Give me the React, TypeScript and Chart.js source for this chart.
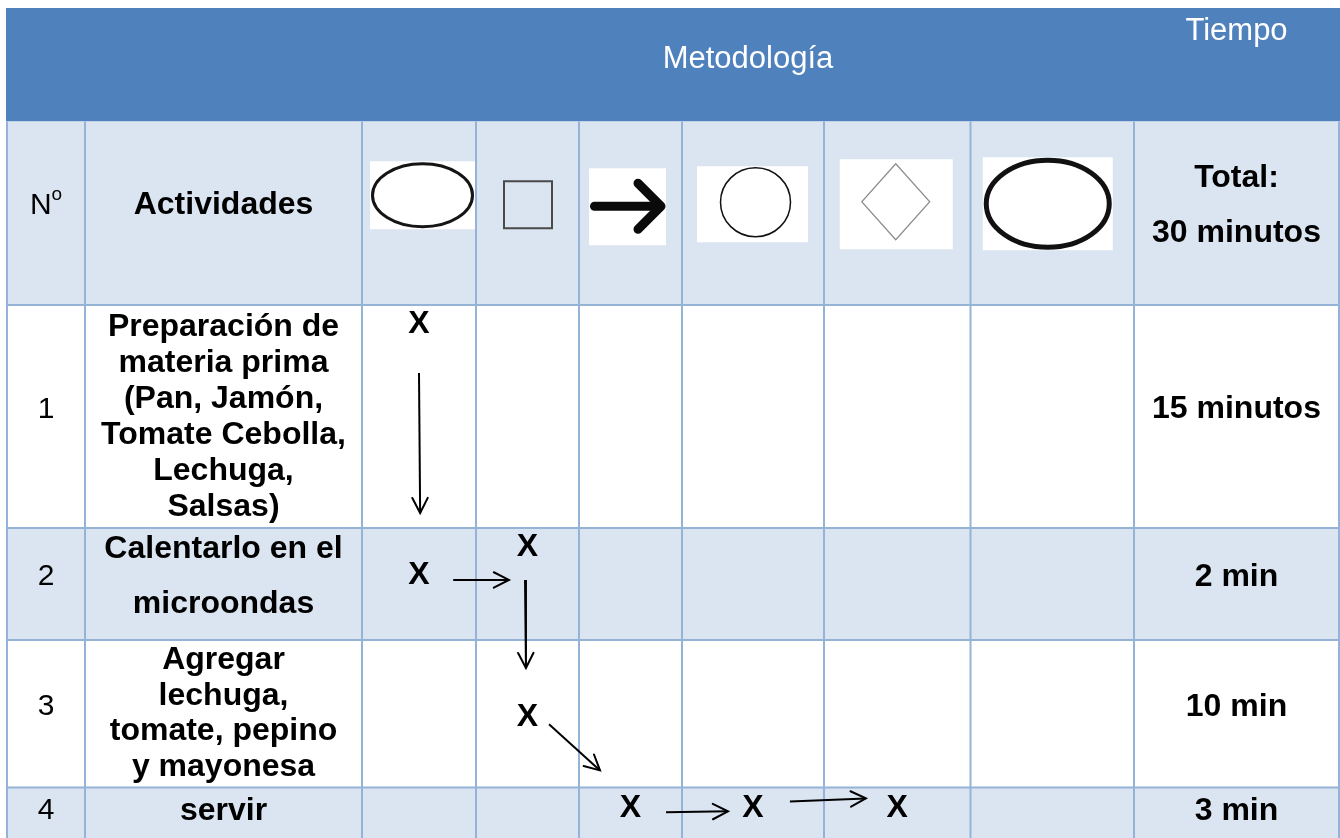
import React, { useEffect, useRef } from 'react';
import { Chart, registerables } from 'chart.js';

Chart.register(...registerables);

// ---------------- data ----------------
const headerTitle = 'Metodología';
const headerTime = 'Tiempo';
const numberHeader = 'N';
const numberHeaderSup = 'o';
const activityHeader = 'Actividades';
const symbolKinds = ['operacion', 'inspeccion', 'transporte', 'demora', 'decision', 'almacenamiento'];
const totalLines = ['Total:', '30 minutos'];

const stepNumbers = ['1', '2', '3', '4'];
const stepActivities = [
  ['Preparación de', 'materia prima', '(Pan, Jamón,', 'Tomate Cebolla,', 'Lechuga,', 'Salsas)'],
  ['Calentarlo en el', 'microondas'],
  ['Agregar', 'lechuga,', 'tomate, pepino', 'y mayonesa'],
  ['servir'],
];
const stepTimes = ['15 minutos', '2 min', '10 min', '3 min'];

// "X" marks: step (row), symbol column, vertical level inside the row (0 = top, 1 = bottom)
const markSteps = [0, 1, 1, 2, 3, 3, 3];
const markSymbols = [0, 0, 1, 1, 2, 3, 4];
const markLevels = [0.085, 0.42, 0.17, 0.52, 0.34, 0.34, 0.34];

// flow arrows: [symbol column, across-column fraction, step, down-row fraction]
const flowFrom = [
  [0, 0.5, 0, 0.305],
  [0, 0.8, 1, 0.464],
  [1, 0.476, 1, 0.464],
  [1, 0.709, 2, 0.571],
  [2, 0.845, 3, 0.41],
  [3, 0.76, 3, 0.23],
];
const flowTo = [
  [0, 0.51, 0, 0.933],
  [1, 0.32, 1, 0.464],
  [1, 0.485, 2, 0.19],
  [2, 0.204, 2, 0.884],
  [3, 0.324, 3, 0.393],
  [4, 0.286, 3, 0.18],
];

// ---------------- layout (table units) ----------------
const COL_EDGES = [1, 79, 356, 470, 573, 676, 818, 964.5, 1128, 1333];
const ROW_EDGES = [0, 113.5, 297, 520, 632, 779.5, 840];
const TABLE_W = 1334;
const TABLE_H = 830;
const LINE_PITCH = [36, 55, 35.5, 36];
const TEXT_SHIFT = -7;
const ACT_SHIFT = [8, 0, 7, 0];

const HEADER_BLUE = '#4F81BD';
const LIGHT_ROW = '#DBE5F1';
const GRID = '#95B3D7';
const FONT = '"Liberation Sans", Arial, Helvetica, sans-serif';

const symX = (s: number, f: number) => COL_EDGES[2 + s] + f * (COL_EDGES[3 + s] - COL_EDGES[2 + s]);
const stepY = (i: number, f: number) => ROW_EDGES[2 + i] + f * (ROW_EDGES[3 + i] - ROW_EDGES[2 + i]);

function ellipse(ctx: CanvasRenderingContext2D, x: number, y: number, rx: number, ry: number, lw: number, color: string) {
  ctx.beginPath();
  ctx.ellipse(x, y, rx, ry, 0, 0, Math.PI * 2);
  ctx.lineWidth = lw;
  ctx.strokeStyle = color;
  ctx.stroke();
}

function drawIcon(ctx: CanvasRenderingContext2D, kind: string, cx: number, cy: number) {
  ctx.save();
  ctx.fillStyle = '#ffffff';
  if (kind === 'operacion') {
    ctx.fillRect(cx - 49, cy - 52, 105, 68);
    ellipse(ctx, cx + 3.5, cy - 18, 50, 31.5, 3, '#151515');
  } else if (kind === 'inspeccion') {
    ctx.lineWidth = 2;
    ctx.strokeStyle = '#4a4a4a';
    ctx.strokeRect(cx - 23.5, cy - 32, 48, 47);
  } else if (kind === 'transporte') {
    ctx.fillRect(cx - 41.5, cy - 45, 77, 77);
    ctx.strokeStyle = '#0a0a0a';
    ctx.lineWidth = 9;
    ctx.lineCap = 'round';
    ctx.lineJoin = 'round';
    ctx.beginPath();
    ctx.moveTo(cx - 36, cy - 7);
    ctx.lineTo(cx + 27.5, cy - 7);
    ctx.stroke();
    ctx.beginPath();
    ctx.moveTo(cx + 7.5, cy - 30);
    ctx.lineTo(cx + 30.5, cy - 7);
    ctx.lineTo(cx + 7.5, cy + 16);
    ctx.stroke();
  } else if (kind === 'demora') {
    ctx.fillRect(cx - 56, cy - 47, 111, 76);
    ellipse(ctx, cx + 2.5, cy - 11, 35, 34.5, 1.5, '#111111');
  } else if (kind === 'decision') {
    ctx.fillRect(cx - 57.5, cy - 54, 113, 90);
    const dx = cx - 1.5;
    const dy = cy - 11.5;
    ctx.beginPath();
    ctx.moveTo(dx, dy - 38);
    ctx.lineTo(dx + 34, dy);
    ctx.lineTo(dx, dy + 38);
    ctx.lineTo(dx - 34, dy);
    ctx.closePath();
    ctx.lineWidth = 1.2;
    ctx.strokeStyle = '#8c8c8c';
    ctx.stroke();
  } else if (kind === 'almacenamiento') {
    ctx.fillRect(cx - 69.5, cy - 56, 130, 93);
    ellipse(ctx, cx - 4.5, cy - 9.5, 61.5, 43.5, 5, '#111111');
  }
  ctx.restore();
}

function drawLines(ctx: CanvasRenderingContext2D, lines: string[], cx: number, cy: number, pitch: number) {
  const n = lines.length;
  lines.forEach((l, i) => ctx.fillText(l, cx, cy + (i - (n - 1) / 2) * pitch));
}

const tablePlugin = {
  id: 'flowTable',
  beforeDatasetsDraw(chart: any) {
    const ctx: CanvasRenderingContext2D = chart.ctx;
    const xs = chart.scales.x;
    const ys = chart.scales.y;
    const X = (u: number) => xs.getPixelForValue(u);
    const Y = (u: number) => ys.getPixelForValue(u);
    const colC = (k: number) => X((COL_EDGES[k] + COL_EDGES[k + 1]) / 2);
    const rowC = (r: number) => Y((ROW_EDGES[r] + ROW_EDGES[r + 1]) / 2);
    ctx.save();

    // backgrounds
    ctx.fillStyle = '#ffffff';
    ctx.fillRect(X(0), Y(0), X(TABLE_W) - X(0), Y(ROW_EDGES[6]) - Y(0));
    ctx.fillStyle = HEADER_BLUE;
    ctx.fillRect(X(0), Y(ROW_EDGES[0]), X(TABLE_W) - X(0), Y(ROW_EDGES[1]) - Y(ROW_EDGES[0]));
    ctx.fillStyle = LIGHT_ROW;
    [1, 3, 5].forEach((r) => {
      ctx.fillRect(X(0), Y(ROW_EDGES[r]), X(TABLE_W) - X(0), Y(ROW_EDGES[r + 1]) - Y(ROW_EDGES[r]));
    });

    // grid
    ctx.strokeStyle = GRID;
    ctx.lineWidth = 2;
    ctx.beginPath();
    for (let r = 2; r <= 5; r++) {
      ctx.moveTo(X(COL_EDGES[0]), Y(ROW_EDGES[r]));
      ctx.lineTo(X(COL_EDGES[COL_EDGES.length - 1]), Y(ROW_EDGES[r]));
    }
    COL_EDGES.forEach((c) => {
      ctx.moveTo(X(c), Y(ROW_EDGES[1]));
      ctx.lineTo(X(c), Y(ROW_EDGES[6]));
    });
    ctx.stroke();

    // header texts
    ctx.textAlign = 'center';
    ctx.textBaseline = 'middle';
    ctx.fillStyle = '#ffffff';
    ctx.font = `31px ${FONT}`;
    const metX = X((COL_EDGES[2] + COL_EDGES[8]) / 2);
    ctx.fillText(headerTitle, metX, rowC(0) - 5.5);
    ctx.fillText(headerTime, colC(8), Y(ROW_EDGES[0]) + 23);

    // column header row
    ctx.fillStyle = '#000000';
    const hy = rowC(1) - 8;
    ctx.font = `30px ${FONT}`;
    const nW = ctx.measureText(numberHeader).width;
    ctx.font = `19px ${FONT}`;
    const oW = ctx.measureText(numberHeaderSup).width;
    const nx0 = colC(0) - (nW + oW) / 2;
    ctx.textAlign = 'left';
    ctx.font = `30px ${FONT}`;
    ctx.fillText(numberHeader, nx0, hy);
    ctx.font = `19px ${FONT}`;
    ctx.fillText(numberHeaderSup, nx0 + nW, hy - 10);
    ctx.textAlign = 'center';
    ctx.font = `bold 32px ${FONT}`;
    ctx.fillText(activityHeader, colC(1), hy);
    drawLines(ctx, totalLines, colC(8), hy, 55);

    symbolKinds.forEach((k, s) => drawIcon(ctx, k, colC(2 + s), rowC(1)));

    // step rows
    stepNumbers.forEach((num, i) => {
      const cy = rowC(2 + i) + TEXT_SHIFT;
      ctx.font = `30px ${FONT}`;
      ctx.fillText(num, colC(0), cy);
      ctx.font = `bold 32px ${FONT}`;
      drawLines(ctx, stepActivities[i], colC(1), cy + ACT_SHIFT[i], LINE_PITCH[i]);
      ctx.fillText(stepTimes[i], colC(8), cy);
    });
    ctx.restore();
  },
  afterDatasetsDraw(chart: any) {
    const ctx: CanvasRenderingContext2D = chart.ctx;
    ctx.save();
    // X marks
    const marks = chart.getDatasetMeta(0).data;
    ctx.fillStyle = '#000000';
    ctx.font = `bold 32px ${FONT}`;
    ctx.textAlign = 'center';
    ctx.textBaseline = 'middle';
    marks.forEach((el: any) => ctx.fillText('X', el.x, el.y));
    // arrow heads
    ctx.strokeStyle = '#000000';
    ctx.lineWidth = 2;
    ctx.lineCap = 'round';
    for (let d = 1; d < chart.data.datasets.length; d++) {
      const pts = chart.getDatasetMeta(d).data;
      const a = pts[0];
      const b = pts[pts.length - 1];
      const ang = Math.atan2(b.y - a.y, b.x - a.x);
      const len = 17;
      const spread = (27 * Math.PI) / 180;
      ctx.beginPath();
      ctx.moveTo(b.x - len * Math.cos(ang - spread), b.y - len * Math.sin(ang - spread));
      ctx.lineTo(b.x, b.y);
      ctx.lineTo(b.x - len * Math.cos(ang + spread), b.y - len * Math.sin(ang + spread));
      ctx.stroke();
    }
    ctx.restore();
  },
};

export default function App() {
  const ref = useRef<HTMLCanvasElement | null>(null);
  useEffect(() => {
    if (!ref.current) return;
    const markData = markSteps.map((st, i) => ({
      x: symX(markSymbols[i], 0.5),
      y: stepY(st, markLevels[i]),
    }));
    const arrowSets = flowFrom.map((f, i) => {
      const t = flowTo[i];
      return {
        label: `flujo ${i + 1}`,
        data: [
          { x: symX(f[0], f[1]), y: stepY(f[2], f[3]) },
          { x: symX(t[0], t[1]), y: stepY(t[2], t[3]) },
        ],
        showLine: true,
        borderColor: '#000000',
        borderWidth: 2,
        pointRadius: 0,
        fill: false,
      };
    });
    const chart = new Chart(ref.current, {
      type: 'scatter',
      data: {
        datasets: [
          { label: 'X', data: markData, pointRadius: 0, showLine: false },
          ...arrowSets,
        ] as any,
      },
      options: {
        animation: false,
        responsive: false,
        maintainAspectRatio: false,
        events: [],
        layout: { padding: { left: 6, top: 8, right: 0, bottom: 0 } },
        scales: {
          x: { type: 'linear', min: 0, max: TABLE_W, display: false },
          y: { type: 'linear', min: 0, max: TABLE_H, reverse: true, display: false },
        },
        plugins: { legend: { display: false }, tooltip: { enabled: false } },
      },
      plugins: [tablePlugin],
    });
    return () => chart.destroy();
  }, []);
  return (
    <div style={{ position: 'absolute', left: 0, top: 0, width: 1340, height: 838, background: '#ffffff' }}>
      <canvas ref={ref} width={1340} height={838} style={{ display: 'block' }} />
    </div>
  );
}
